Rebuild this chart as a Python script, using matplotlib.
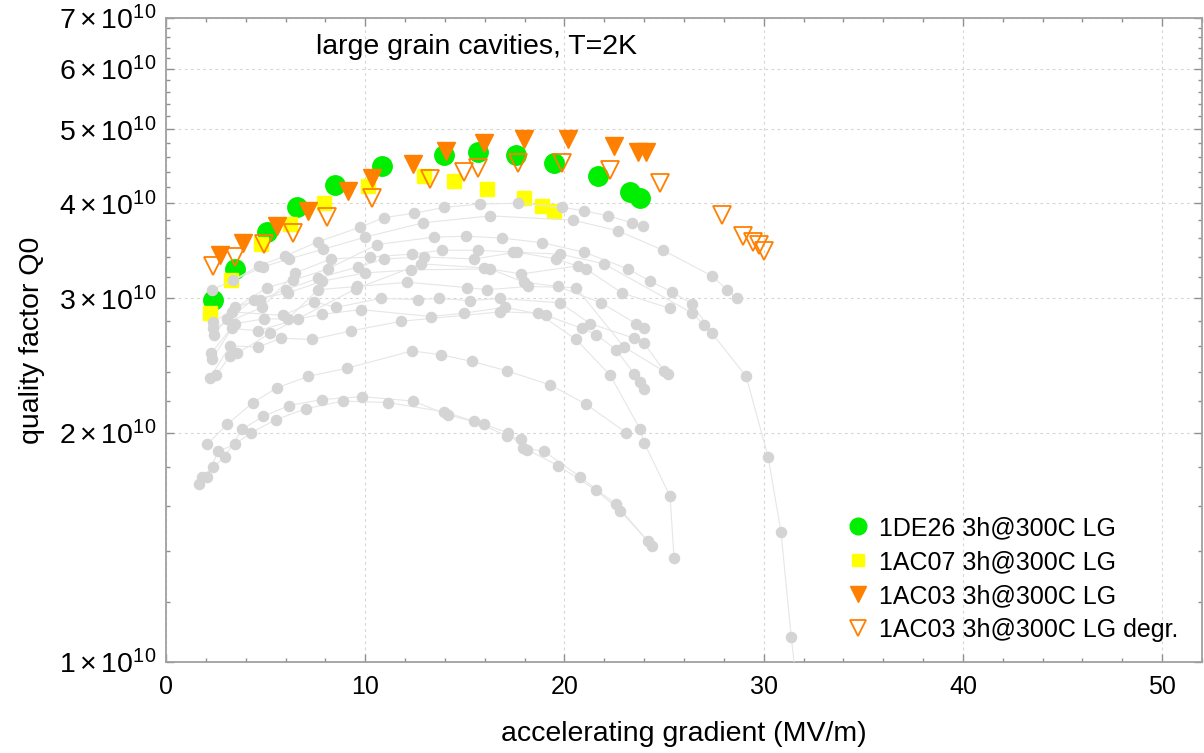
import numpy as np
import matplotlib
matplotlib.use("Agg")
import matplotlib.pyplot as plt
from matplotlib.ticker import FixedLocator, FuncFormatter
from matplotlib.lines import Line2D

plt.rcParams["font.family"] = ["Liberation Sans", "DejaVu Sans"]
plt.rcParams["mathtext.fontset"] = "custom"
plt.rcParams["mathtext.rm"] = "Liberation Sans"
plt.rcParams["mathtext.it"] = "Liberation Sans"
plt.rcParams["mathtext.bf"] = "Liberation Sans"

# ---- highlighted cavities (gradient in MV/m, Q0 in units of 1e10) ----
de26_grad = [2.36, 3.46, 5.07, 6.58, 8.48, 10.84, 13.96, 15.66, 17.57, 19.48, 21.69, 23.29, 23.80]
de26_q0 = [2.99, 3.28, 3.67, 3.95, 4.23, 4.48, 4.63, 4.67, 4.63, 4.52, 4.34, 4.14, 4.06]

ac07_grad = [2.21, 3.26, 4.77, 6.22, 7.93, 10.14, 12.95, 14.46, 16.11, 17.97, 18.88, 19.48]
ac07_q0 = [2.87, 3.17, 3.54, 3.76, 4.00, 4.21, 4.34, 4.28, 4.18, 4.06, 3.97, 3.91]

ac03_grad = [2.71, 3.87, 5.57, 7.13, 9.14, 10.34, 12.40, 14.06, 15.96, 17.97, 20.18, 22.49, 23.69, 24.10]
ac03_q0 = [3.42, 3.55, 3.73, 3.91, 4.15, 4.32, 4.50, 4.68, 4.80, 4.86, 4.86, 4.76, 4.67, 4.67]

ac03d_grad = [2.36, 3.46, 4.92, 6.38, 8.08, 10.34, 13.25, 14.96, 15.66, 17.67, 19.88, 22.29,
              24.80, 27.91, 28.97, 29.47, 29.77, 30.02]
ac03d_q0 = [3.31, 3.40, 3.54, 3.66, 3.84, 4.06, 4.30, 4.40, 4.45, 4.52, 4.52, 4.42,
            4.25, 3.86, 3.62, 3.56, 3.53, 3.46]

# ---- other large grain cavities (grey background curves) ----
lg01_grad = [3.36, 4.67, 5.97, 7.63, 9.74, 10.94, 12.45, 13.96, 15.76, 17.67, 19.88, 20.98, 22.19, 23.39, 23.95]
lg01_q0 = [3.17, 3.31, 3.41, 3.56, 3.72, 3.83, 3.88, 3.95, 3.99, 4.00, 3.95, 3.91, 3.85, 3.77, 3.73]
lg02_grad = [2.31, 4.87, 6.17, 7.88, 9.99, 12.90, 16.27, 20.43, 22.69, 24.95, 27.41, 28.16, 28.66]
lg02_q0 = [3.08, 3.30, 3.38, 3.48, 3.61, 3.77, 3.85, 3.80, 3.68, 3.47, 3.21, 3.08, 3.00]
lg03_grad = [2.36, 5.07, 6.38, 8.13, 10.59, 13.45, 15.06, 16.87, 18.88, 20.98, 23.19, 24.30,
             25.40, 26.41, 27.41, 29.12, 30.22, 30.87, 31.38, 31.68]
lg03_q0 = [2.79, 3.10, 3.17, 3.28, 3.53, 3.61, 3.62, 3.60, 3.55, 3.45, 3.28, 3.16,
           3.06, 2.95, 2.70, 2.37, 1.86, 1.48, 1.08, 0.92]
lg04_grad = [2.36, 4.82, 6.48, 8.28, 10.24, 12.35, 13.86, 15.66, 17.42, 19.78, 21.99, 26.41, 27.01]
lg04_q0 = [2.74, 2.92, 3.24, 3.38, 3.40, 3.43, 3.47, 3.47, 3.45, 3.43, 3.33, 2.87, 2.77]
lg05_grad = [3.46, 4.72, 6.02, 7.63, 9.64, 10.94, 12.95, 15.46, 17.62, 19.58, 21.08, 22.89, 25.30]
lg05_q0 = [2.92, 2.99, 3.08, 3.19, 3.30, 3.38, 3.40, 3.38, 3.45, 3.38, 3.28, 3.05, 2.91]
lg06_grad = [3.06, 4.42, 6.12, 7.83, 9.99, 12.30, 16.27, 17.97, 19.68, 21.84, 23.59, 24.00]
lg06_q0 = [2.82, 2.99, 3.05, 3.16, 3.24, 3.27, 3.28, 3.15, 3.11, 2.96, 2.78, 2.74]
lg07_grad = [2.41, 3.31, 5.87, 7.43, 8.53, 10.79, 12.65, 13.70, 15.26, 16.77, 19.78, 21.29, 23.49, 24.00, 25.00]
lg07_q0 = [2.69, 2.88, 2.85, 2.97, 2.92, 3.00, 2.99, 3.00, 2.98, 3.00, 2.96, 2.78, 2.66, 2.62, 2.41]
lg08_grad = [2.26, 3.46, 4.92, 6.12, 7.63, 9.59, 12.10, 15.11, 16.11, 18.17, 20.58, 22.99, 25.20]
lg08_q0 = [2.54, 2.78, 2.82, 2.82, 3.08, 3.11, 3.15, 3.10, 3.08, 3.11, 3.10, 2.59, 2.39]
lg09_grad = [2.31, 3.31, 4.62, 6.63, 7.83, 9.79, 13.30, 14.96, 17.02, 19.08, 20.88, 21.59, 22.59, 23.49, 23.80, 24.00]
lg09_q0 = [2.50, 2.74, 2.72, 2.82, 2.86, 2.90, 2.84, 2.87, 2.92, 2.85, 2.74, 2.69, 2.57, 2.39, 2.33, 2.28]
lg10_grad = [2.21, 3.21, 4.62, 5.77, 7.33, 9.29, 11.80, 16.77, 18.67, 20.58, 22.29, 23.80, 24.00, 25.30, 25.50]
lg10_q0 = [2.36, 2.60, 2.59, 2.66, 2.65, 2.72, 2.80, 2.88, 2.87, 2.65, 2.38, 2.02, 1.94, 1.65, 1.37]
lg11_grad = [2.51, 3.21, 3.56, 5.22, 9.54, 12.80, 15.96, 17.82, 20.68]
lg11_q0 = [2.38, 2.52, 2.54, 2.70, 3.09, 3.33, 3.29, 3.23, 3.31]
lg12_grad = [1.81, 2.36, 2.96, 3.82, 4.87, 6.17, 7.83, 9.84, 12.40, 14.16, 15.96, 17.17, 17.92, 18.98, 20.78, 22.59, 24.20]
lg12_q0 = [1.75, 1.80, 1.86, 2.02, 2.10, 2.17, 2.21, 2.23, 2.20, 2.11, 2.05, 2.00, 1.91, 1.89, 1.75, 1.61, 1.44]
lg13_grad = [1.66, 2.06, 2.61, 3.46, 4.27, 5.52, 7.03, 8.89, 11.14, 13.96, 15.46, 17.12, 17.82, 18.12, 19.68, 21.59, 22.79, 24.40]
lg13_q0 = [1.71, 1.75, 1.89, 1.93, 2.00, 2.08, 2.15, 2.20, 2.19, 2.13, 2.07, 1.98, 1.96, 1.90, 1.81, 1.68, 1.58, 1.42]
lg14_grad = [2.06, 3.06, 4.37, 5.57, 7.13, 9.09, 12.35, 13.80, 15.36, 17.12, 19.28, 21.08, 23.09]
lg14_q0 = [1.93, 2.05, 2.19, 2.29, 2.37, 2.43, 2.56, 2.53, 2.48, 2.41, 2.31, 2.18, 2.00]

background = [
    (lg01_grad, lg01_q0), (lg02_grad, lg02_q0), (lg03_grad, lg03_q0), (lg04_grad, lg04_q0),
    (lg05_grad, lg05_q0), (lg06_grad, lg06_q0), (lg07_grad, lg07_q0), (lg08_grad, lg08_q0),
    (lg09_grad, lg09_q0), (lg10_grad, lg10_q0), (lg11_grad, lg11_q0), (lg12_grad, lg12_q0),
    (lg13_grad, lg13_q0), (lg14_grad, lg14_q0),
]

labels = ["1DE26 3h@300C LG", "1AC07 3h@300C LG", "1AC03 3h@300C LG", "1AC03 3h@300C LG degr."]
y_major = [1, 2, 3, 4, 5, 6, 7]
x_major = [0, 10, 20, 30, 40, 50]

SCALE = 1e10
GREEN = "#00ee00"
YELLOW = "#ffff00"
ORANGE = "#ff7f00"

fig = plt.figure(figsize=(12.04, 7.53), dpi=100)
ax = fig.add_axes([166 / 1204, (753 - 662) / 753, 1036 / 1204, 644 / 753])
ax.set_yscale("log")
ax.set_xlim(0, 52)
ax.set_ylim(1 * SCALE, 7 * SCALE)

# highlighted cavities
ax.plot(de26_grad, np.array(de26_q0) * SCALE, ls="none", marker="o", ms=14,
        mfc=GREEN, mec=GREEN, zorder=3)
ax.plot(ac07_grad, np.array(ac07_q0) * SCALE, ls="none", marker="s", ms=10,
        mfc=YELLOW, mec=YELLOW, zorder=4)
ax.plot(ac03_grad, np.array(ac03_q0) * SCALE, ls="none", marker="v", ms=12.5,
        mfc=ORANGE, mec=ORANGE, zorder=5)
ax.plot(ac03d_grad, np.array(ac03d_q0) * SCALE, ls="none", marker="v", ms=12.5,
        mfc="none", mec=ORANGE, mew=1.3, zorder=6)

# grey reference curves
for grad, q0 in background:
    ax.plot(grad, np.array(q0) * SCALE, color="#e6e6e6", lw=0.8, zorder=7)
    ax.plot(grad, np.array(q0) * SCALE, ls="none", marker="o", ms=7.3,
            mfc="#d4d4d4", mec="#d4d4d4", zorder=8)

# axes styling
ax.yaxis.set_major_locator(FixedLocator([v * SCALE for v in y_major]))
minor_y = [round(v, 1) * SCALE for v in np.arange(1.2, 7.0, 0.2) if abs(v - round(v)) > 1e-6]
ax.yaxis.set_minor_locator(FixedLocator(minor_y))
ax.yaxis.set_major_formatter(FuncFormatter(lambda v, p: r"$%d\times10^{10}$" % round(v / SCALE)))
ax.yaxis.set_minor_formatter(FuncFormatter(lambda v, p: ""))
ax.xaxis.set_major_locator(FixedLocator(x_major))
ax.xaxis.set_minor_locator(FixedLocator(np.arange(0, 53, 2)))

ax.grid(True, which="major", color="#d6d6d6", linestyle=(0, (2.5, 3)), linewidth=0.8)
ax.set_axisbelow(True)
for s in ax.spines.values():
    s.set_color("#a0a0a0")
    s.set_linewidth(1.3)
ax.tick_params(which="both", direction="in", top=True, right=True, color="#909090", width=1.0)
ax.tick_params(axis="x", labelsize=18)
ax.tick_params(axis="y", labelsize=20.5)
ax.tick_params(which="major", length=5.5, pad=9)
ax.tick_params(axis="y", which="major", pad=7)
ax.tick_params(which="minor", length=2.8)

ax.set_xlabel("accelerating gradient (MV/m)", fontsize=20.5, labelpad=16)
ax.set_ylabel("quality factor Q0", fontsize=20.5, labelpad=10)

ax.text(0.30, 0.955, "large grain cavities, T=2K", transform=ax.transAxes,
        fontsize=20.5, ha="center", va="center")

handles = [
    Line2D([], [], ls="none", marker="o", ms=12, mfc=GREEN, mec=GREEN),
    Line2D([], [], ls="none", marker="s", ms=8, mfc=YELLOW, mec=YELLOW),
    Line2D([], [], ls="none", marker="v", ms=11, mfc=ORANGE, mec=ORANGE),
    Line2D([], [], ls="none", marker="v", ms=11, mfc="none", mec=ORANGE, mew=1.3),
]
ax.legend(handles, labels, loc="lower left", bbox_to_anchor=(0.641, 0.004), frameon=False,
          fontsize=18, handlelength=0.8, handletextpad=0.45, labelspacing=0.4,
          borderaxespad=0.3)

fig.savefig("out.png", dpi=100)
